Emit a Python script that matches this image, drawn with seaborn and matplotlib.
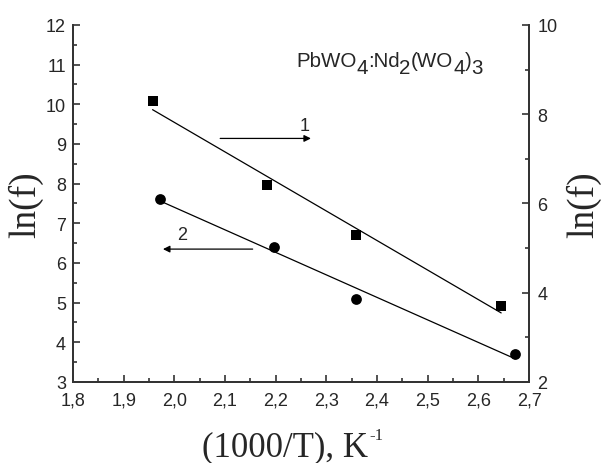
import numpy as np
import pandas as pd
import matplotlib
matplotlib.use("Agg")
import matplotlib.pyplot as plt
from matplotlib.ticker import MultipleLocator, FuncFormatter
from matplotlib.transforms import offset_copy
import seaborn as sns

# Series 1 (squares, right axis)
x1 = [1.957, 2.182, 2.358, 2.645]
y1 = [8.30, 6.41, 5.30, 3.70]
# Series 2 (circles, left axis)
x2 = [1.972, 2.197, 2.358, 2.673]
y2 = [7.61, 6.40, 5.09, 3.70]

x_ticks = [1.8, 1.9, 2.0, 2.1, 2.2, 2.3, 2.4, 2.5, 2.6, 2.7]
left_ticks = [3, 4, 5, 6, 7, 8, 9, 10, 11, 12]
right_ticks = [2, 4, 6, 8, 10]

sns.set_theme(style="ticks")
plt.rcParams["font.family"] = ["Liberation Sans", "DejaVu Sans"]

fig = plt.figure(figsize=(6.06, 4.64), dpi=100)
ax = fig.add_axes([0.1205, 0.1746, 0.7525, 0.7694])
ax2 = ax.twinx()

d1 = pd.DataFrame({"x": x1, "y": y1})
d2 = pd.DataFrame({"x": x2, "y": y2})

sns.regplot(data=d2, x="x", y="y", ax=ax, ci=None, truncate=True,
            scatter=False, color="black", line_kws={"lw": 0.9})
sns.scatterplot(data=d2, x="x", y="y", ax=ax, marker="o", s=60,
                color="black", edgecolor="black", linewidth=0)

sns.regplot(data=d1, x="x", y="y", ax=ax2, ci=None, truncate=True,
            scatter=False, color="black", line_kws={"lw": 0.9})
sns.scatterplot(data=d1, x="x", y="y", ax=ax2, marker="s", s=48,
                color="black", edgecolor="black", linewidth=0)

ax.set_xlim(1.8, 2.7)
ax.set_ylim(3, 12)
ax2.set_ylim(2, 10)
ax.set_xlabel("")
ax2.set_xlabel("")

comma = FuncFormatter(lambda v, p: f"{v:.1f}".replace(".", ","))
ax.set_xticks(x_ticks)
ax.xaxis.set_major_formatter(comma)
ax.xaxis.set_minor_locator(MultipleLocator(0.05))
ax.set_yticks(left_ticks)
ax.yaxis.set_minor_locator(MultipleLocator(0.5))
ax2.set_yticks(right_ticks)
ax2.yaxis.set_minor_locator(MultipleLocator(1))

for a in (ax, ax2):
    a.tick_params(which="major", direction="in", length=5, width=1.2,
                  labelsize=13, color="#333333", pad=5)
    a.tick_params(which="minor", direction="in", length=3, width=1.2,
                  color="#333333")
    for s in a.spines.values():
        s.set_linewidth(1.3)
        s.set_color("#333333")
    a.spines["top"].set_visible(False)
ax.tick_params(axis="y", which="both", right=False)
ax.tick_params(axis="x", which="both", top=False, pad=7)
ax2.tick_params(axis="y", which="both", left=False, right=True, pad=6)

serif = ["Liberation Serif", "DejaVu Serif"]
ax.set_ylabel("ln(f)", family=serif, fontsize=27, labelpad=2)
ax2.set_ylabel("ln(f)", family=serif, fontsize=27, rotation=90, labelpad=6)

# x-axis label with a small raised exponent
xl = fig.text(0.47, 8 / 464, "(1000/T), K", family=serif, fontsize=25,
              ha="center", va="baseline")
fig.canvas.draw()
rend = fig.canvas.get_renderer()
bb = xl.get_window_extent(rend)
fig.text(bb.x1 / fig.bbox.width + 0.002, (bb.y0 + 7 + 17) / fig.bbox.height,
         "-1", family=serif, fontsize=12, ha="left", va="baseline")


def chem_text(ax, x, y, pieces, size):
    """Draw a formula piece by piece; lowered pieces act as subscripts."""
    trans = ax.transData
    for txt, sub in pieces:
        t = ax.text(x, y, txt, fontsize=size, ha="left", va="baseline",
                    transform=offset_copy(trans, fig=fig, x=0,
                                          y=-5.5 if sub else 0, units="points"))
        fig.canvas.draw()
        w = t.get_window_extent(rend).width
        trans = offset_copy(trans, fig=fig, x=w * 72 / fig.dpi, y=0,
                            units="points")


chem_text(ax, 2.24, 10.97,
          [("PbWO", False), ("4", True), (":Nd", False), ("2", True),
           ("(WO", False), ("4", True), (")", False), ("3", True)], 14.8)

# direction arrows pointing to the axis each series belongs to
ax.annotate("", xy=(2.275, 9.14), xytext=(2.085, 9.14),
            arrowprops=dict(arrowstyle="-|>", color="black", lw=0.9,
                            mutation_scale=10))
ax.text(2.257, 9.47, "1", fontsize=13, ha="center", va="center")
ax.annotate("", xy=(1.972, 6.35), xytext=(2.160, 6.35),
            arrowprops=dict(arrowstyle="-|>", color="black", lw=0.9,
                            mutation_scale=10))
ax.text(2.015, 6.72, "2", fontsize=13, ha="center", va="center")

fig.savefig("out.png", dpi=100)
